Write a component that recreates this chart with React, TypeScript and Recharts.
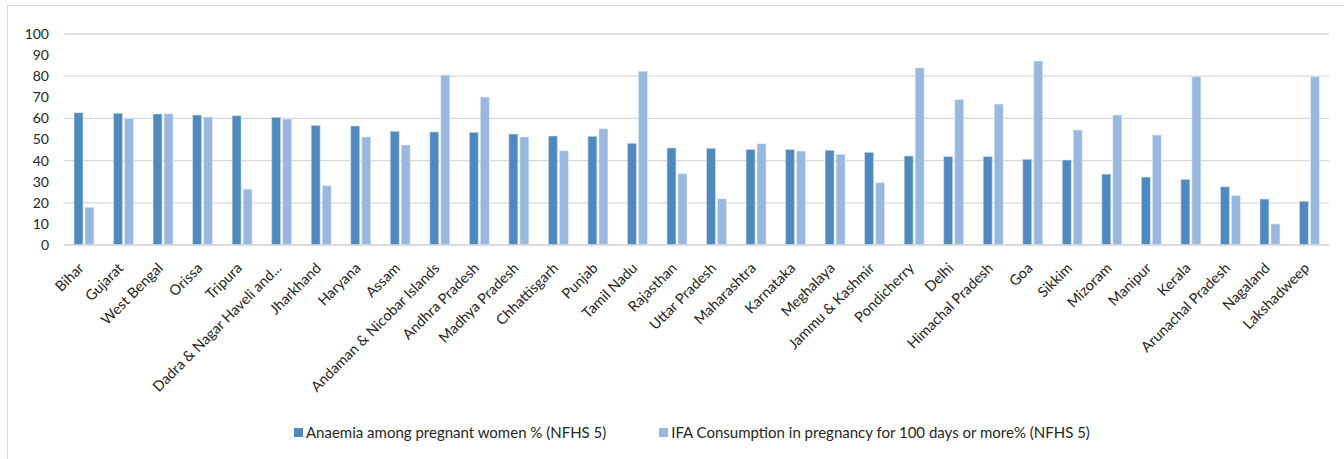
import { BarChart, Bar, XAxis, YAxis, CartesianGrid, Legend } from 'recharts';

const states = [
  'Bihar', 'Gujarat', 'West Bengal', 'Orissa', 'Tripura', 'Dadra & Nagar Haveli and...',
  'Jharkhand', 'Haryana', 'Assam', 'Andaman & Nicobar Islands', 'Andhra Pradesh',
  'Madhya Pradesh', 'Chhattisgarh', 'Punjab', 'Tamil Nadu', 'Rajasthan', 'Uttar Pradesh',
  'Maharashtra', 'Karnataka', 'Meghalaya', 'Jammu & Kashmir', 'Pondicherry', 'Delhi',
  'Himachal Pradesh', 'Goa', 'Sikkim', 'Mizoram', 'Manipur', 'Kerala', 'Arunachal Pradesh',
  'Nagaland', 'Lakshadweep'
];

const anaemia = [
  62.7, 62.4, 62.1, 61.6, 61.3, 60.5, 56.7, 56.4, 53.9, 53.6, 53.4, 52.6, 51.7, 51.5,
  48.2, 46.0, 45.8, 45.3, 45.3, 44.9, 43.9, 42.2, 41.9, 41.9, 40.6, 40.3, 33.6, 32.2,
  31.1, 27.6, 21.8, 20.7
];

const ifa = [
  17.9, 60.0, 62.2, 60.7, 26.5, 59.7, 28.1, 51.2, 47.4, 80.6, 70.1, 51.2, 44.7, 55.1,
  82.3, 33.8, 21.9, 48.0, 44.5, 43.0, 29.5, 83.9, 68.9, 66.8, 87.2, 54.5, 61.6, 52.1,
  79.8, 23.5, 10.0, 79.8
];

const yTicks = [0, 10, 20, 30, 40, 50, 60, 70, 80, 90, 100];

const data = states.map((name, i) => ({ name, anaemia: anaemia[i], ifa: ifa[i] }));

const FONT = 'Lato, "Liberation Sans", sans-serif';
const TEXT = '#262626';

const StateTick = (props: any) => {
  const { x, y, payload } = props;
  return (
    <g transform={`translate(${x + 1},${y + 16})`}>
      <text
        x={0}
        y={0}
        textAnchor="end"
        transform="rotate(-45)"
        fontSize={14.5}
        fontFamily={FONT}
        fill={TEXT}
      >
        {payload.value}
      </text>
    </g>
  );
};

const LegendBox = (props: any) => {
  const { payload } = props;
  return (
    <div style={{ display: 'flex', justifyContent: 'flex-start', height: 20, alignItems: 'center', paddingLeft: 280 }}>
      {(payload || []).map((p: any) => (
        <div key={p.value} style={{ display: 'flex', alignItems: 'center', marginRight: 53 }}>
          <span style={{ width: 9, height: 9, background: p.color, display: 'inline-block', marginRight: 3 }} />
          <span style={{ fontSize: 15, fontFamily: FONT, color: TEXT, whiteSpace: 'nowrap' }}>{p.value}</span>
        </div>
      ))}
    </div>
  );
};

export default function App() {
  return (
    <div style={{ position: 'absolute', left: 0, top: 0, width: 1344, height: 459, background: '#fff', overflow: 'hidden' }}>
      <div
        style={{
          position: 'absolute',
          left: 7,
          top: 5,
          width: 1345,
          height: 470,
          border: '1px solid #d9d9d9',
          boxSizing: 'border-box',
        }}
      />
      <div style={{ position: 'absolute', left: 0, top: 0 }}>
        <BarChart
          width={1344}
          height={459}
          data={data}
          margin={{ top: 34, right: 15, left: 14, bottom: 17 }}
          barSize={9}
          barGap={2}
        >
          <CartesianGrid vertical={false} stroke="#d9d9d9" strokeWidth={1.3} />
          <XAxis
            dataKey="name"
            interval={0}
            tick={<StateTick />}
            tickLine={false}
            axisLine={{ stroke: '#d9d9d9', strokeWidth: 1.3 }}
            height={177}
          />
          <YAxis
            domain={[0, 100]}
            ticks={yTicks}
            width={50}
            tickLine={false}
            axisLine={false}
            tickMargin={9}
            tick={{ fontSize: 14, fontFamily: FONT, fill: TEXT }}
          />
          <Legend verticalAlign="bottom" content={<LegendBox />} />
          <Bar
            dataKey="anaemia"
            name="Anaemia among pregnant women % (NFHS 5)"
            fill="#4F89BE"
            stroke="#dbe6f2"
            strokeWidth={0.6}
            isAnimationActive={false}
          />
          <Bar
            dataKey="ifa"
            name="IFA Consumption in pregnancy for 100 days or more% (NFHS 5)"
            fill="#98B8DF"
            stroke="#e6eef8"
            strokeWidth={0.6}
            isAnimationActive={false}
          />
        </BarChart>
      </div>
    </div>
  );
}
